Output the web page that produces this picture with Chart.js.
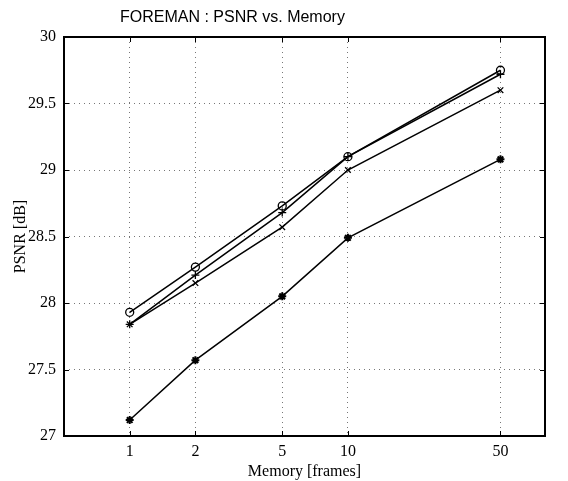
<!DOCTYPE html>
<html>
<head>
<meta charset="utf-8">
<script src="https://cdn.jsdelivr.net/npm/chart.js@4/dist/chart.umd.min.js"></script>
<style>
  html, body { margin: 0; padding: 0; background: #fff; }
  #wrap { width: 568px; height: 481px; position: relative; }
</style>
</head>
<body>
<div id="wrap"><canvas id="c" width="568" height="481"></canvas></div>
<script>
// Memory sizes (frames) and PSNR results for the FOREMAN sequence
const memoryFrames = [1, 2, 5, 10, 50];
const psnrCircle   = [27.93, 28.27, 28.73, 29.10, 29.75];
const psnrPlus     = [27.84, 28.21, 28.68, 29.10, 29.72];
const psnrCross    = [27.84, 28.15, 28.57, 29.00, 29.60];
const psnrStar     = [27.12, 27.57, 28.05, 28.49, 29.08];
const xTickValues  = [1, 2, 5, 10, 50];
const yTickValues  = [27, 27.5, 28, 28.5, 29, 29.5, 30];

const chartTitle = 'FOREMAN : PSNR vs. Memory';
const xTitle = 'Memory [frames]';
const yTitle = 'PSNR [dB]';

const toPoints = arr => memoryFrames.map((m, i) => ({ x: m, y: arr[i] }));

function series(data, style, radius, bw) {
  return {
    data: toPoints(data),
    borderColor: '#000',
    backgroundColor: 'rgba(0,0,0,0)',
    borderWidth: 1.5,
    pointStyle: style,
    pointRadius: radius,
    pointBorderColor: '#000',
    pointBackgroundColor: 'rgba(0,0,0,0)',
    pointBorderWidth: bw,
    tension: 0
  };
}

// Frame box, inward ticks and the heading
const framePlugin = {
  id: 'frame',
  afterDraw(chart) {
    const { ctx, chartArea: a, scales } = chart;
    ctx.save();
    ctx.strokeStyle = '#000';
    ctx.lineWidth = 1;
    const tl = 5;
    ctx.beginPath();
    xTickValues.forEach(v => {
      const px = Math.round(scales.x.getPixelForValue(v)) + 0.5;
      ctx.moveTo(px, a.bottom); ctx.lineTo(px, a.bottom - tl);
      ctx.moveTo(px, a.top); ctx.lineTo(px, a.top + tl);
    });
    yTickValues.forEach(v => {
      const py = Math.round(scales.y.getPixelForValue(v)) + 0.5;
      ctx.moveTo(a.left, py); ctx.lineTo(a.left + tl, py);
      ctx.moveTo(a.right, py); ctx.lineTo(a.right - tl, py);
    });
    ctx.stroke();
    ctx.lineWidth = 2;
    ctx.strokeRect(a.left, a.top, a.right - a.left, a.bottom - a.top);
    ctx.fillStyle = '#000';
    ctx.font = '16px "Liberation Sans", Arial, sans-serif';
    ctx.textBaseline = 'middle';
    ctx.textAlign = 'left';
    ctx.fillText(chartTitle, 120, 18);
    ctx.restore();
  }
};

new Chart(document.getElementById('c'), {
  type: 'line',
  data: {
    datasets: [
      series(psnrCircle, 'circle', 4, 1.3),
      series(psnrPlus, 'cross', 4, 1.3),
      series(psnrCross, 'crossRot', 4, 1.3),
      series(psnrStar, 'star', 4, 2)
    ]
  },
  options: {
    responsive: false,
    animation: false,
    layout: { padding: { top: 37, right: 23, left: 0, bottom: 0 } },
    plugins: { legend: { display: false }, tooltip: { enabled: false }, title: { display: false } },
    scales: {
      x: {
        type: 'logarithmic',
        min: 0.5,
        max: 80,
        afterBuildTicks: s => { s.ticks = xTickValues.map(v => ({ value: v })); },
        afterFit: s => { s.height = 45; },
        ticks: {
          callback: v => String(v),
          color: '#000',
          padding: 6,
          maxRotation: 0,
          autoSkip: false,
          font: { family: '"Liberation Serif", "Times New Roman", serif', size: 16 }
        },
        grid: { color: '#777', lineWidth: 1, drawTicks: false },
        border: { display: false, dash: [1, 4] },
        title: {
          display: true,
          text: xTitle,
          color: '#000',
          padding: { top: -4, bottom: 0 },
          font: { family: '"Liberation Serif", "Times New Roman", serif', size: 16 }
        }
      },
      y: {
        min: 27,
        max: 30,
        afterBuildTicks: s => { s.ticks = yTickValues.map(v => ({ value: v })); },
        afterFit: s => { s.width = 64; },
        ticks: {
          callback: v => String(v),
          color: '#000',
          padding: 8,
          font: { family: '"Liberation Serif", "Times New Roman", serif', size: 16 }
        },
        grid: { color: '#777', lineWidth: 1, drawTicks: false },
        border: { display: false, dash: [1, 4] },
        title: {
          display: true,
          text: yTitle,
          color: '#000',
          padding: { top: 11, bottom: 0 },
          font: { family: '"Liberation Serif", "Times New Roman", serif', size: 16 }
        }
      }
    }
  },
  plugins: [framePlugin]
});
</script>
</body>
</html>
